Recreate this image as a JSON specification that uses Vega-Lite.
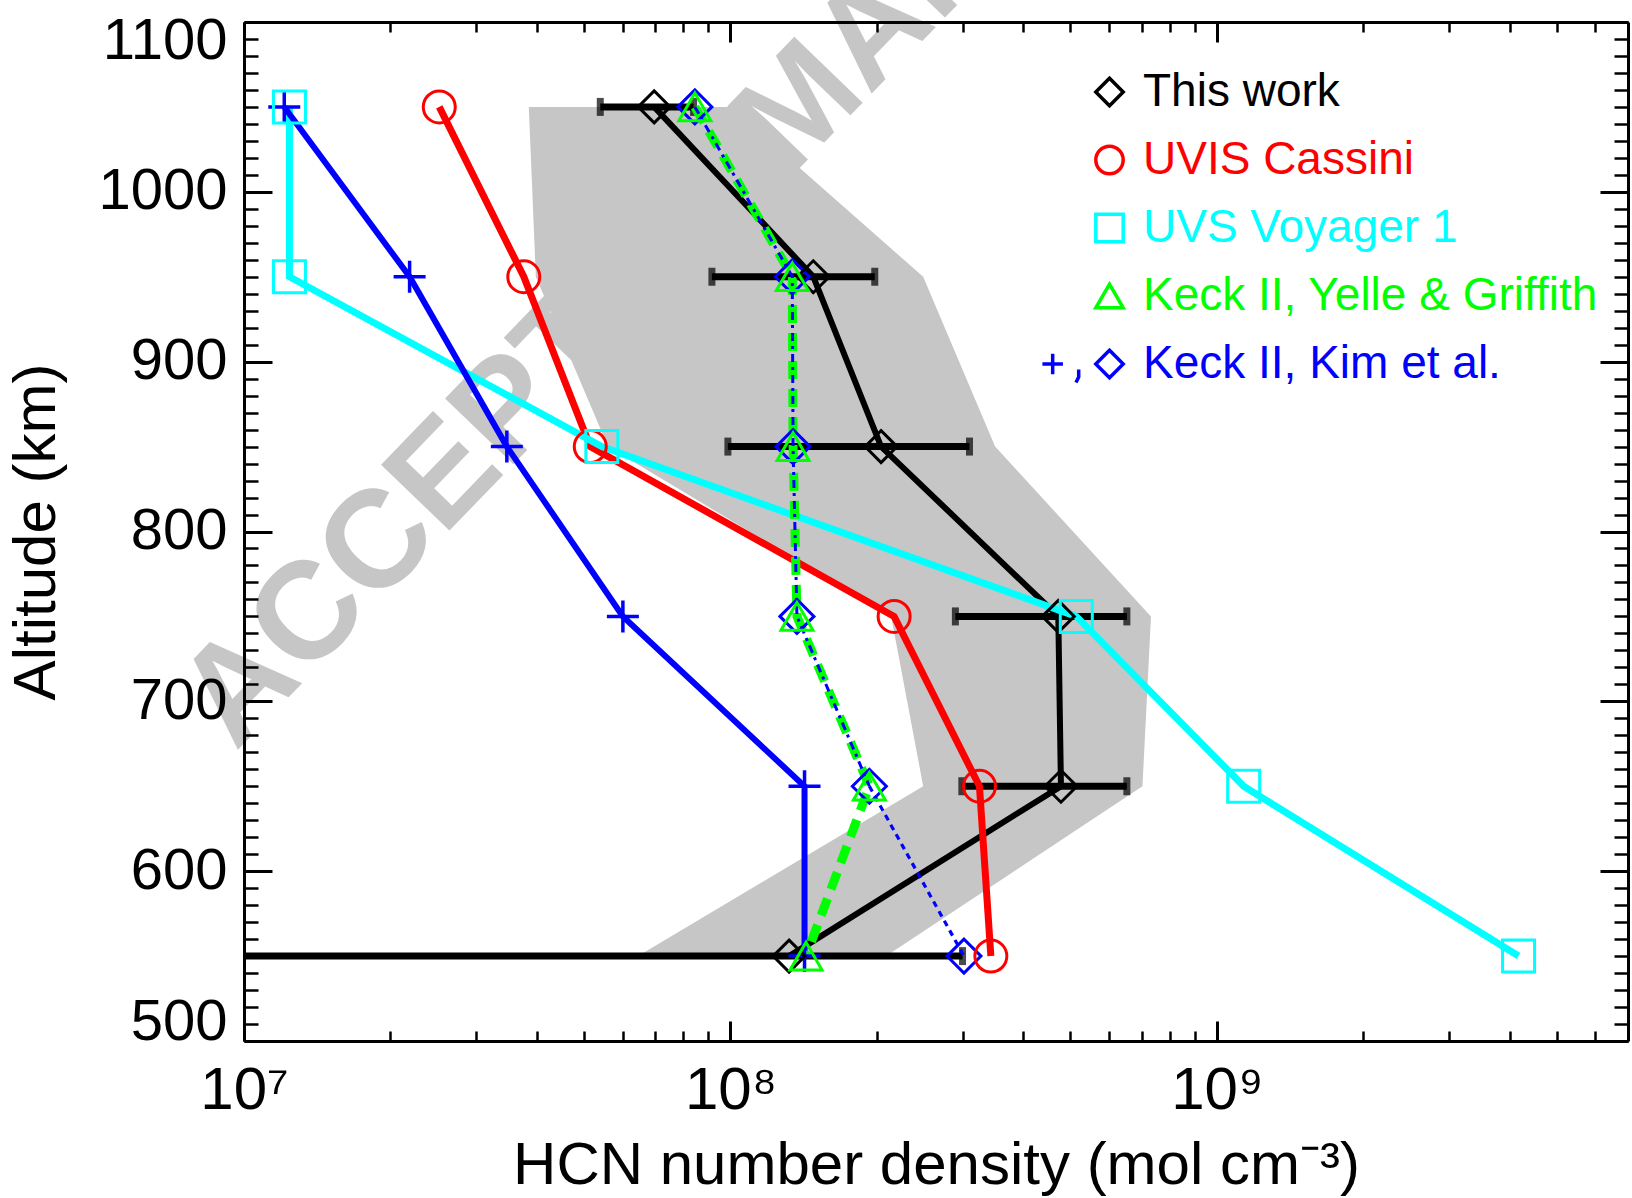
{
  "$schema": "https://vega.github.io/schema/vega-lite/v6.json",
  "width": 1384,
  "height": 1019,
  "autosize": {"type": "none"},
  "padding": {"left": 244, "top": 22, "right": 4, "bottom": 157},
  "background": "white",
  "config": {
    "view": {"stroke": null},
    "font": "Liberation Sans",
    "axis": {
      "grid": false,
      "zindex": 1,
      "domainColor": "black",
      "tickColor": "black",
      "labelColor": "black",
      "titleColor": "black",
      "labelFont": "Liberation Sans",
      "titleFont": "Liberation Sans",
      "titleFontWeight": "normal",
      "labelOverlap": false
    }
  },
  "datasets": {
    "profiles": [
      {"series": "This work", "set": 1, "alt": 1050, "n": 6.97e7},
      {"series": "This work", "set": 1, "alt": 950, "n": 1.48e8},
      {"series": "This work", "set": 1, "alt": 850, "n": 2.04e8},
      {"series": "This work", "set": 1, "alt": 750, "n": 4.72e8},
      {"series": "This work", "set": 1, "alt": 650, "n": 4.78e8},
      {"series": "This work", "set": 1, "alt": 550, "n": 1.32e8},
      {"series": "UVIS Cassini", "set": 1, "alt": 1050, "n": 2.52e7},
      {"series": "UVIS Cassini", "set": 1, "alt": 950, "n": 3.76e7},
      {"series": "UVIS Cassini", "set": 1, "alt": 850, "n": 5.15e7},
      {"series": "UVIS Cassini", "set": 1, "alt": 750, "n": 2.17e8},
      {"series": "UVIS Cassini", "set": 1, "alt": 650, "n": 3.25e8},
      {"series": "UVIS Cassini", "set": 1, "alt": 550, "n": 3.43e8},
      {"series": "UVS Voyager 1", "set": 1, "alt": 1050, "n": 1.24e7},
      {"series": "UVS Voyager 1", "set": 1, "alt": 950, "n": 1.24e7},
      {"series": "UVS Voyager 1", "set": 1, "alt": 850, "n": 5.44e7},
      {"series": "UVS Voyager 1", "set": 1, "alt": 750, "n": 5.14e8},
      {"series": "UVS Voyager 1", "set": 1, "alt": 650, "n": 1.135e9},
      {"series": "UVS Voyager 1", "set": 1, "alt": 550, "n": 4.17e9},
      {"series": "Keck II, Yelle & Griffith", "set": 1, "alt": 1050, "n": 8.45e7},
      {"series": "Keck II, Yelle & Griffith", "set": 1, "alt": 950, "n": 1.34e8},
      {"series": "Keck II, Yelle & Griffith", "set": 1, "alt": 850, "n": 1.345e8},
      {"series": "Keck II, Yelle & Griffith", "set": 1, "alt": 750, "n": 1.37e8},
      {"series": "Keck II, Yelle & Griffith", "set": 1, "alt": 650, "n": 1.93e8},
      {"series": "Keck II, Yelle & Griffith", "set": 1, "alt": 550, "n": 1.43e8},
      {"series": "Keck II, Kim et al.", "set": 1, "alt": 1050, "n": 1.21e7},
      {"series": "Keck II, Kim et al.", "set": 1, "alt": 950, "n": 2.19e7},
      {"series": "Keck II, Kim et al.", "set": 1, "alt": 850, "n": 3.47e7},
      {"series": "Keck II, Kim et al.", "set": 1, "alt": 750, "n": 6.01e7},
      {"series": "Keck II, Kim et al.", "set": 1, "alt": 650, "n": 1.42e8},
      {"series": "Keck II, Kim et al.", "set": 1, "alt": 550, "n": 1.42e8},
      {"series": "Keck II, Kim et al.", "set": 2, "alt": 1050, "n": 8.45e7},
      {"series": "Keck II, Kim et al.", "set": 2, "alt": 950, "n": 1.34e8},
      {"series": "Keck II, Kim et al.", "set": 2, "alt": 850, "n": 1.345e8},
      {"series": "Keck II, Kim et al.", "set": 2, "alt": 750, "n": 1.37e8},
      {"series": "Keck II, Kim et al.", "set": 2, "alt": 650, "n": 1.93e8},
      {"series": "Keck II, Kim et al.", "set": 2, "alt": 550, "n": 3.02e8}
    ],
    "errors": [
      {"alt": 1050, "lo": 5.4e7, "hi": 8.4e7},
      {"alt": 950, "lo": 9.16e7, "hi": 1.98e8},
      {"alt": 850, "lo": 9.88e7, "hi": 3.1e8},
      {"alt": 750, "lo": 2.9e8, "hi": 6.53e8},
      {"alt": 650, "lo": 2.99e8, "hi": 6.53e8},
      {"alt": 550, "lo": 5e6, "hi": 3.0e8}
    ],
    "envelope": [
      {"alt": 1050, "lo": 3.85e7, "hi": 1.0e8},
      {"alt": 950, "lo": 3.98e7, "hi": 2.49e8},
      {"alt": 850, "lo": 5.6e7, "hi": 3.5e8},
      {"alt": 750, "lo": 2.14e8, "hi": 7.32e8},
      {"alt": 650, "lo": 2.49e8, "hi": 7.03e8},
      {"alt": 550, "lo": 6.46e7, "hi": 2.09e8}
    ],
    "stamp": [
      {"text": "ACCEPTED MANUSCRIPT"}
    ]
  },
  "layer": [
    {
      "data": {"name": "stamp"},
      "mark": {
        "type": "text", "font": "Liberation Sans",
        "fontWeight": "bold", "fontSize": 138, "angle": -46, "align": "left",
        "baseline": "alphabetic", "color": "#c6c6c6"
      },
      "encoding": {
        "text": {"field": "text", "type": "nominal"},
        "x": {"datum": 9.6e6, "type": "quantitative", "scale": {"type": "log", "domain": [1e7, 7e9], "nice": false}, "axis": null},
        "y": {"datum": 670, "type": "quantitative", "scale": {"domain": [500, 1100], "nice": false, "zero": false}, "axis": null}
      }
    },
    {
      "data": {"name": "envelope"},
      "mark": {"type": "area", "orient": "horizontal", "color": "#c6c6c6"},
      "encoding": {
        "y": {
          "field": "alt", "type": "quantitative",
          "scale": {"domain": [500, 1100], "nice": false, "zero": false},
          "axis": {
            "orient": "left", "zindex": 2,
            "values": [500, 600, 700, 800, 900, 1000, 1100],
            "format": "d",
            "tickSize": -28, "tickWidth": 3, "domainWidth": 3,
            "labelFontSize": 58, "labelPadding": 45, "labelFlush": true, "labelFlushOffset": 10,
            "title": "Altitude (km)", "titleFontSize": 60,
            "titleBaseline": "alphabetic", "titleX": -190
          }
        },
        "x": {
          "field": "lo", "type": "quantitative",
          "scale": {"type": "log", "domain": [1e7, 7e9], "nice": false},
          "axis": {
            "orient": "bottom", "zindex": 2,
            "values": [1e7, 1e8, 1e9],
            "tickSize": -20, "tickWidth": 3, "domainWidth": 3,
            "labelFontSize": 60, "labelPadding": 40, "labelFlush": false,
            "labelExpr": "datum.value < 5e7 ? '10⁷' : datum.value < 5e8 ? '10⁸' : '10⁹'",
            "title": "HCN number density (mol cm⁻³)", "titleFontSize": 60,
            "titleBaseline": "alphabetic", "titleY": 142
          }
        },
        "x2": {"field": "hi"}
      }
    },
    {
      "data": {"name": "profiles"},
      "transform": [{"filter": "datum.series === 'This work'"}],
      "mark": {"type": "line", "color": "black", "strokeWidth": 6},
      "encoding": {
        "x": {
          "field": "n", "type": "quantitative",
          "scale": {"type": "log", "domain": [1e7, 7e9], "nice": false},
          "axis": {"orient": "top", "zindex": 2, "values": [1e7, 1e8, 1e9], "tickSize": -20, "tickWidth": 3, "domainWidth": 3, "labels": false, "title": null}
        },
        "y": {
          "field": "alt", "type": "quantitative",
          "scale": {"domain": [500, 1100], "nice": false, "zero": false},
          "axis": {"orient": "right", "zindex": 2, "values": [500, 600, 700, 800, 900, 1000, 1100], "tickSize": -28, "tickWidth": 3, "domainWidth": 3, "labels": false, "title": null}
        },
        "order": {"field": "alt", "type": "quantitative"}
      }
    },
    {
      "data": {"name": "errors"},
      "mark": {"type": "rule", "color": "black", "strokeWidth": 7, "clip": true},
      "encoding": {
        "x": {"field": "lo", "type": "quantitative", "scale": {"type": "log", "domain": [1e7, 7e9], "nice": false}, "axis": null},
        "x2": {"field": "hi"},
        "y": {"field": "alt", "type": "quantitative", "scale": {"domain": [500, 1100], "nice": false, "zero": false}, "axis": null}
      }
    },
    {
      "data": {"name": "errors"},
      "mark": {"type": "tick", "orient": "vertical", "color": "black", "size": 18, "thickness": 7, "clip": true},
      "encoding": {
        "x": {"field": "lo", "type": "quantitative", "scale": {"type": "log", "domain": [1e7, 7e9], "nice": false}, "axis": null},
        "y": {"field": "alt", "type": "quantitative", "scale": {"domain": [500, 1100], "nice": false, "zero": false}, "axis": null}
      }
    },
    {
      "data": {"name": "errors"},
      "mark": {"type": "tick", "orient": "vertical", "color": "black", "size": 18, "thickness": 7, "clip": true},
      "encoding": {
        "x": {"field": "hi", "type": "quantitative", "scale": {"type": "log", "domain": [1e7, 7e9], "nice": false}, "axis": null},
        "y": {"field": "alt", "type": "quantitative", "scale": {"domain": [500, 1100], "nice": false, "zero": false}, "axis": null}
      }
    },
    {
      "data": {"name": "profiles"},
      "transform": [{"filter": "datum.series === 'UVIS Cassini'"}],
      "mark": {"type": "line", "color": "#ff0000", "strokeWidth": 7},
      "encoding": {
        "x": {
          "field": "n", "type": "quantitative",
          "scale": {"type": "log", "domain": [1e7, 7e9], "nice": false},
          "axis": {"orient": "bottom", "zindex": 2, "values": [2e7, 3e7, 4e7, 5e7, 6e7, 7e7, 8e7, 9e7, 2e8, 3e8, 4e8, 5e8, 6e8, 7e8, 8e8, 9e8, 2e9, 3e9, 4e9, 5e9, 6e9], "tickSize": -10, "tickWidth": 2.5, "domain": false, "labels": false, "title": null}
        },
        "y": {
          "field": "alt", "type": "quantitative",
          "scale": {"domain": [500, 1100], "nice": false, "zero": false},
          "axis": {"orient": "left", "zindex": 2, "values": [510, 520, 530, 540, 550, 560, 570, 580, 590, 610, 620, 630, 640, 650, 660, 670, 680, 690, 710, 720, 730, 740, 750, 760, 770, 780, 790, 810, 820, 830, 840, 850, 860, 870, 880, 890, 910, 920, 930, 940, 950, 960, 970, 980, 990, 1010, 1020, 1030, 1040, 1050, 1060, 1070, 1080, 1090], "tickSize": -14, "tickWidth": 2.5, "domain": false, "labels": false, "title": null}
        },
        "order": {"field": "alt", "type": "quantitative"}
      }
    },
    {
      "data": {"name": "profiles"},
      "transform": [{"filter": "datum.series === 'UVS Voyager 1'"}],
      "mark": {"type": "line", "color": "#00ffff", "strokeWidth": 7},
      "encoding": {
        "x": {
          "field": "n", "type": "quantitative",
          "scale": {"type": "log", "domain": [1e7, 7e9], "nice": false},
          "axis": {"orient": "top", "zindex": 2, "values": [2e7, 3e7, 4e7, 5e7, 6e7, 7e7, 8e7, 9e7, 2e8, 3e8, 4e8, 5e8, 6e8, 7e8, 8e8, 9e8, 2e9, 3e9, 4e9, 5e9, 6e9], "tickSize": -10, "tickWidth": 2.5, "domain": false, "labels": false, "title": null}
        },
        "y": {
          "field": "alt", "type": "quantitative",
          "scale": {"domain": [500, 1100], "nice": false, "zero": false},
          "axis": {"orient": "right", "zindex": 2, "values": [510, 520, 530, 540, 550, 560, 570, 580, 590, 610, 620, 630, 640, 650, 660, 670, 680, 690, 710, 720, 730, 740, 750, 760, 770, 780, 790, 810, 820, 830, 840, 850, 860, 870, 880, 890, 910, 920, 930, 940, 950, 960, 970, 980, 990, 1010, 1020, 1030, 1040, 1050, 1060, 1070, 1080, 1090], "tickSize": -14, "tickWidth": 2.5, "domain": false, "labels": false, "title": null}
        },
        "order": {"field": "alt", "type": "quantitative"}
      }
    },
    {
      "data": {"name": "profiles"},
      "transform": [{"filter": "datum.series === 'Keck II, Kim et al.' && datum.set === 1"}],
      "mark": {"type": "line", "color": "#0000ff", "strokeWidth": 6},
      "encoding": {
        "x": {"field": "n", "type": "quantitative", "scale": {"type": "log", "domain": [1e7, 7e9], "nice": false}, "axis": null},
        "y": {"field": "alt", "type": "quantitative", "scale": {"domain": [500, 1100], "nice": false, "zero": false}, "axis": null},
        "order": {"field": "alt", "type": "quantitative"}
      }
    },
    {
      "data": {"name": "profiles"},
      "transform": [{"filter": "datum.series === 'Keck II, Yelle & Griffith'"}],
      "mark": {"type": "line", "color": "#00ff00", "strokeWidth": 9, "strokeDash": [18, 10]},
      "encoding": {
        "x": {"field": "n", "type": "quantitative", "scale": {"type": "log", "domain": [1e7, 7e9], "nice": false}, "axis": null},
        "y": {"field": "alt", "type": "quantitative", "scale": {"domain": [500, 1100], "nice": false, "zero": false}, "axis": null},
        "order": {"field": "alt", "type": "quantitative", "sort": "descending"}
      }
    },
    {
      "data": {"name": "profiles"},
      "transform": [{"filter": "datum.series === 'Keck II, Kim et al.' && datum.set === 2 && datum.alt >= 650"}],
      "mark": {"type": "line", "color": "#0000ff", "strokeWidth": 3, "strokeDash": [8, 5, 3, 5]},
      "encoding": {
        "x": {"field": "n", "type": "quantitative", "scale": {"type": "log", "domain": [1e7, 7e9], "nice": false}, "axis": null},
        "y": {"field": "alt", "type": "quantitative", "scale": {"domain": [500, 1100], "nice": false, "zero": false}, "axis": null},
        "order": {"field": "alt", "type": "quantitative", "sort": "descending"}
      }
    },
    {
      "data": {"name": "profiles"},
      "transform": [{"filter": "datum.series === 'Keck II, Kim et al.' && datum.set === 2 && datum.alt <= 650"}],
      "mark": {"type": "line", "color": "#0000ff", "strokeWidth": 3.2, "strokeDash": [6, 5]},
      "encoding": {
        "x": {"field": "n", "type": "quantitative", "scale": {"type": "log", "domain": [1e7, 7e9], "nice": false}, "axis": null},
        "y": {"field": "alt", "type": "quantitative", "scale": {"domain": [500, 1100], "nice": false, "zero": false}, "axis": null},
        "order": {"field": "alt", "type": "quantitative", "sort": "descending"}
      }
    },
    {
      "data": {"name": "profiles"},
      "transform": [{"filter": "datum.series === 'Keck II, Kim et al.' && datum.set === 2"}],
      "mark": {"type": "point", "shape": "diamond", "filled": false, "color": "#0000ff", "size": 1156, "strokeWidth": 3, "opacity": 1},
      "encoding": {
        "x": {"field": "n", "type": "quantitative", "scale": {"type": "log", "domain": [1e7, 7e9], "nice": false}, "axis": null},
        "y": {"field": "alt", "type": "quantitative", "scale": {"domain": [500, 1100], "nice": false, "zero": false}, "axis": null}
      }
    },
    {
      "data": {"name": "profiles"},
      "transform": [{"filter": "datum.series === 'Keck II, Kim et al.' && datum.set === 1"}],
      "mark": {"type": "point", "shape": "M-1,0H1M0,-1V1", "filled": false, "color": "#0000ff", "size": 1024, "strokeWidth": 3.5, "opacity": 1},
      "encoding": {
        "x": {"field": "n", "type": "quantitative", "scale": {"type": "log", "domain": [1e7, 7e9], "nice": false}, "axis": null},
        "y": {"field": "alt", "type": "quantitative", "scale": {"domain": [500, 1100], "nice": false, "zero": false}, "axis": null}
      }
    },
    {
      "data": {"name": "profiles"},
      "transform": [{"filter": "datum.series !== 'Keck II, Kim et al.'"}],
      "mark": {"type": "point", "filled": false, "strokeWidth": 3, "opacity": 1, "size": 1024},
      "encoding": {
        "x": {"field": "n", "type": "quantitative", "scale": {"type": "log", "domain": [1e7, 7e9], "nice": false}, "axis": null},
        "y": {"field": "alt", "type": "quantitative", "scale": {"domain": [500, 1100], "nice": false, "zero": false}, "axis": null},
        "color": {
          "field": "series", "type": "nominal",
          "scale": {
            "domain": ["This work", "UVIS Cassini", "UVS Voyager 1", "Keck II, Yelle & Griffith", "Keck II, Kim et al."],
            "range": ["#000000", "#ff0000", "#00ffff", "#00ff00", "#0000ff"]
          },
          "legend": {
            "orient": "none", "legendX": 842.5, "legendY": 47, "title": null, "padding": 0,
            "labelFont": "Liberation Sans", "labelFontSize": 46, "labelOffset": 10.5, "labelLimit": 0,
            "labelColor": {"expr": "datum.value === 'UVIS Cassini' ? '#ff0000' : datum.value === 'UVS Voyager 1' ? '#00ffff' : datum.value === 'Keck II, Yelle & Griffith' ? '#00ff00' : datum.value === 'Keck II, Kim et al.' ? '#0000ff' : '#000000'"},
            "symbolSize": 750, "symbolStrokeWidth": 3.5, "symbolOpacity": 1, "rowPadding": 22
          }
        },
        "shape": {
          "field": "series", "type": "nominal",
          "scale": {
            "domain": ["This work", "UVIS Cassini", "UVS Voyager 1", "Keck II, Yelle & Griffith", "Keck II, Kim et al."],
            "range": ["diamond", "circle", "square", "triangle-up", "M-4.9,0H-3.4M-4.15,-0.75V0.75M-2.25,0.4V0.95L-2.45,1.35M-1,0L0,-1L1,0L0,1Z"]
          },
          "legend": {
            "orient": "none", "legendX": 842.5, "legendY": 47, "title": null, "padding": 0,
            "labelFont": "Liberation Sans", "labelFontSize": 46, "labelOffset": 10.5, "labelLimit": 0,
            "labelColor": {"expr": "datum.value === 'UVIS Cassini' ? '#ff0000' : datum.value === 'UVS Voyager 1' ? '#00ffff' : datum.value === 'Keck II, Yelle & Griffith' ? '#00ff00' : datum.value === 'Keck II, Kim et al.' ? '#0000ff' : '#000000'"},
            "symbolSize": 750, "symbolStrokeWidth": 3.5, "symbolOpacity": 1, "rowPadding": 22
          }
        }
      }
    }
  ],
  "resolve": {"axis": {"x": "independent", "y": "independent"}}
}
